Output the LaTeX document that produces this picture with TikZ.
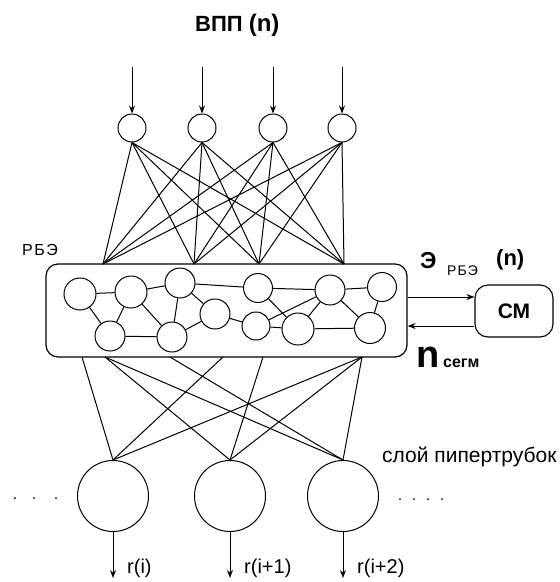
\documentclass[tikz,border=0pt]{standalone}
\usepackage{fontspec}
\setmainfont{Liberation Sans}
\usetikzlibrary{arrows.meta}
\begin{document}
\begin{tikzpicture}[x=1pt,y=-1pt,
  ln/.style={line width=1pt},
  arr/.style={line width=1pt,-{Stealth[length=8pt,width=6pt]}},
  topc/.style={circle,draw,line width=1pt,minimum size=28pt,inner sep=0pt},
  inc/.style={circle,draw,line width=1pt,minimum size=#1,inner sep=0pt},
  botc/.style={circle,draw,line width=1pt,minimum size=71pt,inner sep=0pt},
  lbl/.style={inner sep=0pt,anchor=base west},
  dotn/.style={circle,fill,inner sep=0pt,minimum size=2pt}]
\useasboundingbox[fill=white] (0,0) rectangle (560,582);

% title
\node[lbl] (title) at (195,31) {\bfseries\fontsize{22}{24}\selectfont ВПП \fontsize{24}{26}\selectfont(n)};

% top neurons
\foreach \i/\x in {1/132,2/202,3/273,4/342}{
  \node[topc] (t\i) at (\x,128) {};
  \coordinate (in\i) at (\x,67);
  \draw[arr] (in\i) -- (t\i);
}

% RBE box
\node[draw,line width=1.2pt,rounded corners=12pt,minimum width=361pt,minimum height=93pt,inner sep=0pt] (rbe) at (226.5,310.5) {};
\node[lbl] (rbelbl) at (22,255) {\fontsize{16}{18}\selectfont\addfontfeature{LetterSpace=10}РБЭ};

\foreach \j/\x in {1/103,2/194,3/259,4/344}{
  \coordinate (q\j) at (\x,264);
}
\foreach \i in {1,...,4}{
  \foreach \j in {1,...,4}{
    \draw[ln] (t\i.south) -- (q\j);
  }
}

% inner network
\node[inc=32pt] (A) at (80,294) {};
\node[inc=32pt] (B) at (131,292) {};
\node[inc=30pt] (C) at (180,283) {};
\node[inc=30pt] (D) at (110,336) {};
\node[inc=30pt] (E) at (172,337) {};
\node[inc=30pt] (I) at (215,314) {};
\node[inc=29pt] (F) at (258,288) {};
\node[inc=28pt] (J) at (256,326) {};
\node[inc=32pt] (K) at (298,329) {};
\node[inc=30pt] (G) at (330,290) {};
\node[inc=31pt] (L) at (370,328) {};
\node[inc=29pt] (H) at (382,287) {};
\foreach \a/\b in {A/B,B/C,A/D,B/D,B/E,C/E,D/E,E/I,C/I,C/F,F/G,G/H,I/J,J/K,F/K,J/G,K/G,G/L,K/L,L/H}{
  \draw[ln] (\a) -- (\b);
}

% CM block
\node[draw,line width=1.1pt,rounded corners=13pt,minimum width=78pt,minimum height=52pt,inner sep=0pt,font=\bfseries\fontsize{21}{23}\selectfont] (cm) at (514,311) {СМ};
\draw[arr] (rbe.east |- 0,297) -- (cm.west |- 0,297);
\draw[arr] (cm.west |- 0,326) -- (rbe.east |- 0,326);

\node[lbl] (elbl) at (420,268) {\bfseries\fontsize{23}{25}\selectfont Э};
\node[lbl] (esub) at (447,275) {\fontsize{14}{16}\selectfont\addfontfeature{LetterSpace=8}РБЭ};
\node[lbl] (en) at (496,265) {\bfseries\fontsize{22}{24}\selectfont (n)};

\node[lbl] (nlbl) at (416,367) {\bfseries\fontsize{38}{40}\selectfont n};
\node[lbl] (nsub) at (443,367) {\bfseries\fontsize{16}{18}\selectfont сегм};

% hypertube layer
\node[botc] (c1) at (113,496) {};
\node[botc] (c2) at (230,496) {};
\node[botc] (c3) at (343,496) {};
\node[lbl] (layer) at (382,462) {\fontsize{21}{23}\selectfont слой пипертрубок};

\foreach \k/\x in {1/82,2/105,3/170,4/223,5/263,6/362}{
  \coordinate (p\k) at (\x,357);
}
\foreach \k/\c in {1/c1,2/c2,2/c3,3/c3,4/c1,5/c2,6/c1,6/c2,6/c3}{
  \draw[ln] (p\k) -- (\c.north);
}

% outputs
\foreach \i/\x in {1/113,2/230,3/343}{
  \coordinate (o\i) at (\x,578);
  \draw[arr] (c\i) -- (o\i);
}
\node[lbl] (r1) at (127,573) {\fontsize{20}{22}\selectfont r(i)};
\node[lbl] (r2) at (244,573) {\fontsize{20}{22}\selectfont r(i+1)};
\node[lbl] (r3) at (357,573) {\fontsize{20}{22}\selectfont r(i+2)};

% dots
\foreach \x in {15,34,56}{ \node[dotn] at (\x,498) {}; }
\foreach \x in {400,414,428,442}{ \node[dotn] at (\x,499) {}; }
\end{tikzpicture}
\end{document}
